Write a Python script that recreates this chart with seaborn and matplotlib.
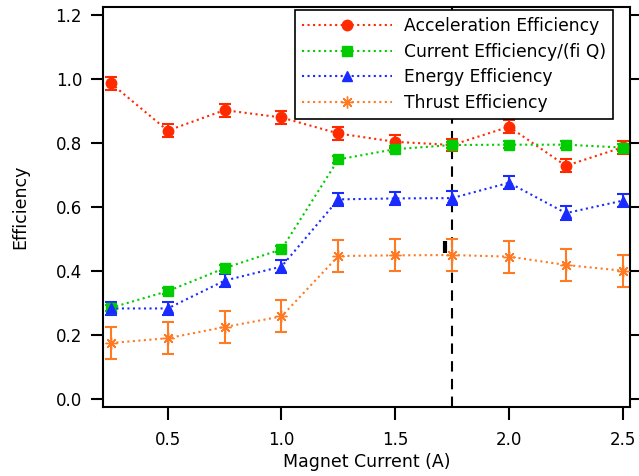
import numpy as np
import pandas as pd
import matplotlib
matplotlib.use("Agg")
import matplotlib.pyplot as plt
import seaborn as sns

current = [0.25, 0.5, 0.75, 1.0, 1.25, 1.5, 1.75, 2.0, 2.25, 2.5]
accel = [0.987, 0.839, 0.903, 0.880, 0.830, 0.804, 0.794, 0.851, 0.729, 0.787]
accel_err = [0.02, 0.02, 0.02, 0.02, 0.02, 0.02, 0.02, 0.02, 0.02, 0.02]
curr_eff = [0.285, 0.337, 0.409, 0.468, 0.749, 0.781, 0.794, 0.795, 0.795, 0.786]
curr_err = [0.01, 0.01, 0.01, 0.01, 0.01, 0.01, 0.01, 0.01, 0.01, 0.01]
energy = [0.283, 0.283, 0.370, 0.414, 0.624, 0.627, 0.628, 0.676, 0.581, 0.620]
energy_err = [0.021, 0.021, 0.021, 0.021, 0.021, 0.021, 0.021, 0.021, 0.021, 0.021]
thrust = [0.175, 0.190, 0.225, 0.258, 0.447, 0.449, 0.450, 0.445, 0.419, 0.401]
thrust_err = [0.05, 0.05, 0.05, 0.05, 0.05, 0.05, 0.05, 0.05, 0.05, 0.05]
labels = ["Acceleration Efficiency", "Current Efficiency/(fi Q)",
          "Energy Efficiency", "Thrust Efficiency"]
vline_x = 1.75
mark_x = [1.72]
mark_y = [0.475]

sns.set_style("ticks")
plt.rcParams['font.family'] = ['DejaVu Sans']
plt.rcParams['text.color'] = 'black'
plt.rcParams['axes.labelcolor'] = 'black'
plt.rcParams['xtick.color'] = 'black'
plt.rcParams['ytick.color'] = 'black'

fig = plt.figure(figsize=(6.39, 4.76), dpi=100)
ax = fig.add_axes([0.161, 0.145, 0.825, 0.840])

series = [
    (accel, accel_err, "#ff2a00", "o", 7.5),
    (curr_eff, curr_err, "#00cc00", "s", 7.5),
    (energy, energy_err, "#1a2bff", "^", 7.5),
    (thrust, thrust_err, "#ff7a22", (8, 2, 0), 8.5),
]
ax.axvline(vline_x, color="black", lw=1.5, ls=(0, (5, 3.5)), zorder=1)

for (vals, errs, col, mk, ms), lab in zip(series, labels):
    df = pd.DataFrame({"x": current, "y": vals})
    sns.lineplot(data=df, x="x", y="y", ax=ax, color=col, lw=1.5, ls=":",
                 marker=mk, markersize=ms, markeredgecolor=col,
                 markeredgewidth=1.0, label=lab, zorder=3)
    ax.errorbar(current, vals, yerr=errs, fmt="none", ecolor=col,
                elinewidth=1.5, capsize=4, capthick=1.5, zorder=2)

ax.plot(mark_x, mark_y, marker="|", color="black", markersize=8,
        markeredgewidth=3, ls="none", zorder=4)

ax.set_xlim(0.215, 2.532)
ax.set_ylim(-0.025, 1.225)
ax.set_xticks([0.5, 1.0, 1.5, 2.0, 2.5])
ax.set_yticks([0.0, 0.2, 0.4, 0.6, 0.8, 1.0, 1.2])
ax.set_xlabel("Magnet Current (A)", fontsize=12.5, labelpad=3)
ax.set_ylabel("Efficiency", fontsize=12.5, labelpad=19)
ax.tick_params(axis="both", direction="out", length=9, width=1.5,
               labelsize=12, color="black", labelcolor="black")
ax.tick_params(axis="x", pad=8)
ax.tick_params(axis="y", right=True, pad=6)
for s in ax.spines.values():
    s.set_visible(True)
    s.set_linewidth(1.5)
    s.set_color("black")

leg = ax.legend(loc="upper right", bbox_to_anchor=(0.968, 0.9925),
                borderaxespad=0, fontsize=12.3,
                frameon=True, fancybox=False, edgecolor="black",
                framealpha=1, borderpad=0.4, handlelength=5.3,
                labelspacing=0.45, handletextpad=0.7)
leg.get_frame().set_linewidth(1.2)

fig.savefig("out.png", dpi=100)
